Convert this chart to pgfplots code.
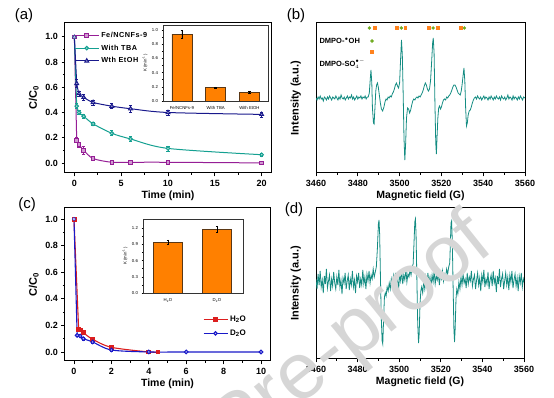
\documentclass[border=0pt]{standalone}
\usepackage{pgfplots}
\pgfplotsset{compat=1.18}
\usepackage{fontspec}
\setmainfont{Liberation Sans}
\definecolor{cpur}{RGB}{150,30,150}
\definecolor{cteal}{RGB}{20,160,145}
\definecolor{cnavy}{RGB}{25,25,140}
\definecolor{corange}{RGB}{255,128,0}
\definecolor{cedge}{RGB}{90,55,20}
\definecolor{cspec}{RGB}{20,140,130}
\definecolor{cgreen}{RGB}{110,170,30}
\definecolor{corg}{RGB}{255,130,30}
\definecolor{cred}{RGB}{220,30,30}
\definecolor{cblue}{RGB}{25,25,200}
\pgfplotsset{
  mainax/.style={
    scale only axis,
    axis line style={line width=1pt},
    tick style={black, line width=0.8pt},
    tick align=outside, tick pos=left,
    major tick length=3.5pt, minor tick length=2pt,
    ticklabel style={font=\bfseries\fontsize{9}{10}\selectfont},
    xlabel style={font=\bfseries\fontsize{10.5}{12}\selectfont, inner sep=1pt},
    ylabel style={font=\bfseries\fontsize{11}{12}\selectfont},
    /pgf/number format/assume math mode=true,
    legend cell align=left,
    legend image code/.code={\draw[mark repeat=2,mark phase=2,##1] plot coordinates {(0pt,0pt) (12pt,0pt) (24pt,0pt)};},
  },
  inax/.style={
    scale only axis,
    axis background/.style={fill=white},
    axis line style={line width=0.6pt, draw=black!80},
    ybar,
    tick align=outside, tick pos=left,
    major tick length=1.5pt, minor tick length=1pt,
    tick style={black, line width=0.4pt},
    ticklabel style={font=\fontsize{4.3}{5}\selectfont},
    ylabel style={font=\fontsize{4.3}{5}\selectfont, inner sep=1pt},
    yticklabel style={/pgf/number format/.cd, fixed, fixed zerofill, precision=1},
    /pgf/number format/assume math mode=true,
  },
  errs/.style={error bars/.cd, y dir=both, y explicit, error bar style={line width=0.7pt}, error mark options={rotate=90, mark size=1.6pt, line width=0.7pt}},
}
\begin{document}
\begin{tikzpicture}[x=1pt,y=1pt]
\useasboundingbox (0,0) rectangle (554,398);

% ---------------- (a) ----------------
\begin{axis}[mainax, at={(65pt,225pt)}, width=206pt, height=150pt,
  xmin=-1, xmax=21, ymin=-0.08, ymax=1.11,
  xtick={0,5,10,15,20}, minor x tick num=1,
  ytick={0,0.2,0.4,0.6,0.8,1.0}, minor y tick num=1,
  yticklabel style={/pgf/number format/.cd, fixed, fixed zerofill, precision=1},
  xlabel={Time (min)}, ylabel={C/C\textsubscript{0}},
  legend style={at={(0.044,0.955)}, anchor=north west, draw=none, fill=none,
    font=\bfseries\fontsize{7.3}{8}\selectfont\addfontfeatures{LetterSpace=7}, row sep=2pt, inner sep=0pt},
]
\addplot[forget plot, cpur, line width=1pt] coordinates {(0,1) (0.25,0.18)};
\addplot[forget plot, cteal, line width=1pt] coordinates {(0,1) (0.25,0.45)};
\addplot[forget plot, cnavy, line width=1pt] coordinates {(0,1) (0.25,0.63)};
\addplot[cpur, line width=1pt, smooth, mark=square*, mark size=1.8pt, mark options={fill=cpur!45, solid}, errs]
  coordinates {(0.25,0.18) +- (0,0.02) (0.5,0.145) +- (0,0.02) (1,0.10) +- (0,0.03) (2,0.035) +- (0,0.01) (4,0.005) +- (0,0.01) (6,0.005) +- (0,0.01) (10,0.005) +- (0,0.01) (20,0.0) +- (0,0.01)};
\addlegendentry{Fe/NCNFs-9}
\addplot[cteal, line width=1pt, smooth, mark=*, mark size=1.8pt, mark options={fill=cteal!35, solid}, errs]
  coordinates {(0.25,0.45) +- (0,0.02) (0.5,0.40) +- (0,0.015) (1,0.37) +- (0,0.015) (2,0.31) +- (0,0.015) (4,0.235) +- (0,0.02) (6,0.19) +- (0,0.02) (10,0.115) +- (0,0.02) (20,0.065) +- (0,0.01)};
\addlegendentry{With TBA}
\addplot[cnavy, line width=1pt, smooth, mark=triangle*, mark size=2.2pt, mark options={fill=cnavy!35, solid}, errs]
  coordinates {(0.25,0.63) +- (0,0.03) (0.5,0.55) +- (0,0.02) (1,0.52) +- (0,0.02) (2,0.48) +- (0,0.02) (4,0.45) +- (0,0.02) (6,0.43) +- (0,0.025) (10,0.40) +- (0,0.02) (20,0.385) +- (0,0.02)};
\addlegendentry{Wth EtOH}
\addplot[forget plot, only marks, mark=square*, mark size=1.8pt, cpur, mark options={fill=cpur!45}] coordinates {(0,1)};
\addplot[forget plot, only marks, mark=*, mark size=1.8pt, cteal, mark options={fill=cteal!35}] coordinates {(0,1)};
\addplot[forget plot, only marks, mark=triangle*, mark size=2.2pt, cnavy, mark options={fill=cnavy!25}] coordinates {(0,1)};
\end{axis}

\begin{axis}[inax, at={(163pt,297pt)}, width=105pt, height=76pt,
  bar width=20pt, xmin=-0.56, xmax=2.55, ymin=0, ymax=1.07,
  xtick={0,1,2}, xticklabels={Fe/NCNFs-9, With TBA, With EtOH},
  x tick style={draw=none},
  ytick={0,0.2,0.4,0.6,0.8,1.0}, minor y tick num=1,
  ylabel={K (min\textsuperscript{-1})},
]
\addplot[fill=corange, draw=cedge, line width=0.6pt, error bars/.cd, y dir=both, y explicit, error bar style={black, line width=0.5pt}, error mark options={rotate=90, mark size=1.2pt, black}]
  coordinates {(0,0.94) +- (0,0.05) (1,0.19) +- (0,0.01) (2,0.125) +- (0,0.01)};
\end{axis}

% ---------------- (b) ----------------
\begin{axis}[mainax, at={(316pt,225pt)}, width=209pt, height=150pt,
  xmin=3460, xmax=3560, ymin=0, ymax=150,
  xtick={3460,3480,3500,3520,3540,3560}, minor x tick num=1, ytick=\empty,
  xticklabel style={/pgf/number format/1000 sep={}},
  xlabel={Magnetic field (G)}, ylabel={Intensity (a.u.)},
  ylabel style={at={(axis description cs:-0.055,0.5)}, anchor=south},
]
\addplot[cspec, line width=0.8pt] coordinates {
(3460,75)(3460.5,73)(3461,76)(3461.5,74)(3462,77)(3462.5,74)(3463,75)(3463.5,72)(3464,76)(3464.5,75)
(3465,73)(3465.5,76)(3466,74)(3466.5,77)(3467,75)(3467.5,73)(3468,76)(3468.5,75)(3469,74)(3469.5,77)
(3470,75)(3470.5,73)(3471,76)(3471.5,74)(3472,78)(3472.5,75)(3473,74)(3473.5,76)(3474,73)(3474.5,75)
(3475,77)(3475.5,74)(3476,76)(3476.5,75)(3477,78)(3477.5,74)(3478,76)(3478.5,73)(3479,75)(3479.5,77)
(3480,74)(3480.5,76)(3481,75)(3481.5,77)(3482,74)(3482.5,76)(3483,75)(3483.5,77)(3484,74)(3484.5,76)
(3485,76)(3485.5,80)(3486,95)(3486.3,103)(3486.7,90)(3487,65)(3487.5,50)(3487.8,49)(3488.2,65)(3488.6,82)
(3489,88)(3489.4,90)(3489.8,86)(3490.3,78)(3490.8,70)(3491.3,64)(3491.9,62)(3492.5,66)(3493,71)(3493.5,74)
(3494,73)(3494.5,76)(3495,75)(3495.5,77)(3496,76)(3496.5,79)(3497,81)(3497.5,84)(3498,88)(3498.5,90)
(3499,87)(3499.5,85)(3500,90)(3500.5,115)(3500.9,133)(3501.3,118)(3501.7,80)(3502.1,35)(3502.5,13)(3502.9,30)
(3503.3,55)(3503.8,65)(3504.3,64)(3504.8,60)(3505.3,63)(3505.8,68)(3506.3,72)(3506.8,74)(3507.3,73)(3507.8,75)
(3508.3,76)(3508.8,75)(3509.3,77)(3509.8,76)(3510.3,78)(3510.8,80)(3511.3,83)(3511.8,87)(3512.3,90)(3512.8,88)
(3513.3,84)(3513.8,82)(3514.3,84)(3514.8,92)(3515.3,110)(3515.8,130)(3516.1,135)(3516.5,120)(3516.9,70)(3517.3,30)
(3517.6,19)(3517.9,35)(3518.3,55)(3518.7,65)(3519.1,67)(3519.6,64)(3520,66)(3520.5,70)(3521,73)(3521.5,74)
(3522,73)(3522.5,76)(3523,75)(3523.5,77)(3524,78)(3524.5,80)(3525,83)(3525.5,86)(3526,88)(3526.5,88)
(3527,86)(3527.5,83)(3528,80)(3528.5,79)(3529,78)(3529.5,82)(3530,90)(3530.5,100)(3530.8,105)(3531.2,92)
(3531.6,65)(3532,47)(3532.4,50)(3532.8,58)(3533.3,62)(3533.8,63)(3534.3,66)(3534.8,70)(3535.3,73)(3535.8,75)
(3536.3,76)(3536.8,74)(3537.3,77)(3537.8,75)(3538.3,74)(3538.8,76)(3539.3,73)(3539.8,75)(3540.3,77)(3540.8,74)
(3541.3,76)(3541.8,75)(3542.3,73)(3542.8,76)(3543.3,74)(3543.8,77)(3544.3,75)(3544.8,73)(3545.3,76)(3545.8,74)
(3546.3,77)(3546.8,75)(3547.3,74)(3547.8,76)(3548.3,73)(3548.8,77)(3549.3,75)(3549.8,74)(3550.3,76)(3550.8,73)
(3551.3,75)(3551.8,78)(3552.3,74)(3552.8,76)(3553.3,75)(3553.8,73)(3554.3,77)(3554.8,74)(3555.3,76)(3555.8,75)
(3556.3,73)(3556.8,76)(3557.3,74)(3557.8,77)(3558.3,75)(3558.8,73)(3559.3,76)(3560,75)};
\addplot[only marks, mark=*, mark size=1.5pt, cgreen] coordinates {(3485.5,145)(3500.8,145)(3516.0,145)(3531.0,145)(3486.8,132)};
\addplot[only marks, mark=square*, mark size=1.4pt, corg] coordinates {(3488.2,145)(3498.6,145)(3502.7,145)(3513.9,145)(3518.2,145)(3529.1,145)(3486.8,121)};
\node[anchor=west, font=\bfseries\fontsize{7.5}{8}\selectfont, inner sep=0pt] at (axis cs:3461.6,132) {DMPO-$^{\bullet}$OH};
\node[anchor=west, font=\bfseries\fontsize{7.5}{8}\selectfont, inner sep=0pt] at (axis cs:3461.6,109) {DMPO-SO$_4^{\bullet -}$};
\end{axis}

% ---------------- (c) ----------------
\begin{axis}[mainax, at={(65pt,37pt)}, width=205pt, height=153pt,
  xmin=-0.48, xmax=10.48, ymin=-0.068, ymax=1.083,
  xtick={0,2,4,6,8,10}, minor x tick num=1,
  ytick={0,0.2,0.4,0.6,0.8,1.0}, minor y tick num=1,
  yticklabel style={/pgf/number format/.cd, fixed, fixed zerofill, precision=1},
  xlabel={Time (min)}, ylabel={C/C\textsubscript{0}},
  legend style={at={(0.672,0.31)}, anchor=north west, draw=none, fill=none,
    font=\bfseries\fontsize{8}{9}\selectfont, row sep=3pt, inner sep=0pt},
]
\addplot[forget plot, cred, line width=1.1pt] coordinates {(0,1) (0.25,0.17)};
\addplot[cred, line width=1.1pt, smooth, mark=square*, mark size=1.8pt, mark options={fill=cred, solid}, errs]
  coordinates {(0.25,0.17) +- (0,0.01) (0.33,0.165) +- (0,0.01) (0.5,0.145) +- (0,0.01) (1,0.095) +- (0,0.01) (2,0.035) +- (0,0.01) (4,0.0) +- (0,0.005) (4.5,0.0) +- (0,0)};
\addlegendentry{H\textsubscript{2}O}
\addplot[forget plot, cblue, line width=1.1pt] coordinates {(0,1) (0.17,0.125)};
\addplot[cblue, line width=1.1pt, smooth, mark=*, mark size=1.8pt, mark options={fill=cblue!25, solid}, errs]
  coordinates {(0.17,0.125) +- (0,0.01) (0.33,0.12) +- (0,0.01) (0.5,0.10) +- (0,0.01) (1,0.075) +- (0,0.01) (2,0.015) +- (0,0.01) (4,0.0) +- (0,0.005) (6,0.0) +- (0,0.005) (10,0.0) +- (0,0.005)};
\addlegendentry{D\textsubscript{2}O}
\addplot[forget plot, only marks, mark=square*, mark size=1.8pt, cred, mark options={fill=cred}] coordinates {(0,1)};
\addplot[forget plot, only marks, mark=*, mark size=1.8pt, cblue, mark options={fill=cblue!25}] coordinates {(0,1)};
\end{axis}

\begin{axis}[inax, at={(143pt,105pt)}, width=100pt, height=74pt,
  bar width=29pt, xmin=-0.51, xmax=1.53, ymin=0, ymax=1.37,
  xtick={0,1}, xticklabels={H\textsubscript{2}O, D\textsubscript{2}O},
  minor xtick={0.5},
  ytick={0,0.3,0.6,0.9,1.2}, minor y tick num=1,
  ylabel={K (min\textsuperscript{-1})},
]
\addplot[fill=corange, draw=cedge, line width=0.6pt, error bars/.cd, y dir=both, y explicit, error bar style={black, line width=0.5pt}, error mark options={rotate=90, mark size=1.2pt, black}]
  coordinates {(0,0.94) +- (0,0.045) (1,1.18) +- (0,0.05)};
\end{axis}

% ---------------- (d) ----------------
\begin{axis}[mainax, at={(316pt,39pt)}, width=208pt, height=151pt,
  xmin=3460, xmax=3560, ymin=0, ymax=151,
  xtick={3460,3480,3500,3520,3540,3560}, minor x tick num=1, ytick=\empty,
  xticklabel style={/pgf/number format/1000 sep={}},
  xlabel={Magnetic field (G)}, ylabel={Intensity (a.u.)},
  ylabel style={at={(axis description cs:-0.055,0.5)}, anchor=south},
]
\addplot[cspec, line width=0.8pt] coordinates {
(3460,80)(3460.5,70)(3461,85)(3461.5,74)(3462,88)(3462.5,72)(3463,79)(3463.5,66)(3464,83)(3464.5,75)
(3465,90)(3465.5,71)(3466,78)(3466.5,84)(3467,68)(3467.5,80)(3468,73)(3468.5,87)(3469,76)(3469.5,70)
(3470,82)(3470.5,74)(3471,89)(3471.5,72)(3472,79)(3472.5,65)(3473,81)(3473.5,76)(3474,86)(3474.5,70)
(3475,78)(3475.5,84)(3476,69)(3476.5,80)(3477,74)(3477.5,88)(3478,72)(3478.5,79)(3479,66)(3479.5,83)
(3480,77)(3480.5,86)(3481,71)(3481.5,80)(3482,74)(3482.5,89)(3483,75)(3483.5,82)(3484,70)(3484.5,85)
(3485,78)(3485.5,88)(3486,76)(3486.5,84)(3487,80)(3487.5,90)(3488,82)(3488.5,87)(3489,92)(3489.5,110)
(3490,135)(3490.3,139)(3490.6,125)(3491,80)(3491.4,40)(3491.8,18)(3492.1,15)(3492.5,40)(3492.9,62)(3493.3,66)
(3493.7,63)(3494.2,72)(3494.7,68)(3495.2,76)(3495.7,70)(3496.2,80)(3496.7,74)(3497.2,83)(3497.7,72)(3498.2,86)
(3498.7,76)(3499.2,81)(3499.7,69)(3500.2,84)(3500.7,78)(3501.2,88)(3501.7,75)(3502.2,84)(3502.7,79)(3503.2,90)
(3503.7,77)(3504.2,85)(3504.7,82)(3505.2,89)(3505.7,84)(3506.2,92)(3506.7,95)(3507.1,115)(3507.5,137)(3507.8,140)
(3508.1,125)(3508.5,80)(3508.9,35)(3509.3,16)(3509.6,25)(3510,55)(3510.4,68)(3510.8,72)(3511.3,66)(3511.8,78)
(3512.3,70)(3512.8,82)(3513.3,74)(3513.8,86)(3514.3,76)(3514.8,82)(3515.3,72)(3515.8,84)(3516.3,77)(3516.8,88)
(3517.3,75)(3517.8,83)(3518.3,79)(3518.8,86)(3519.3,74)(3519.8,84)(3520.3,80)(3520.8,88)(3521.3,78)(3521.8,85)
(3522.3,82)(3522.8,90)(3523.3,85)(3523.8,92)(3524.3,96)(3524.6,115)(3524.9,136)(3525.2,138)(3525.5,120)(3525.9,75)
(3526.3,30)(3526.6,17)(3526.9,30)(3527.3,60)(3527.7,70)(3528.2,65)(3528.7,77)(3529.2,70)(3529.7,82)(3530.2,74)
(3530.7,85)(3531.2,76)(3531.7,80)(3532.2,71)(3532.7,86)(3533.2,75)(3533.7,82)(3534.2,78)(3534.7,88)(3535.2,73)
(3535.7,80)(3536.2,84)(3536.7,70)(3537.2,79)(3537.7,86)(3538.2,74)(3538.7,81)(3539.2,68)(3539.7,84)(3540.2,77)
(3540.7,89)(3541.2,72)(3541.7,80)(3542.2,75)(3542.7,87)(3543.2,70)(3543.7,79)(3544.2,84)(3544.7,73)(3545.2,88)
(3545.7,76)(3546.2,81)(3546.7,67)(3547.2,83)(3547.7,75)(3548.2,90)(3548.7,72)(3549.2,80)(3549.7,85)(3550.2,70)
(3550.7,78)(3551.2,86)(3551.7,74)(3552.2,82)(3552.7,69)(3553.2,84)(3553.7,77)(3554.2,88)(3554.7,71)(3555.2,79)
(3555.7,85)(3556.2,73)(3556.7,81)(3557.2,68)(3557.7,83)(3558.2,76)(3558.7,86)(3559.2,72)(3559.7,80)(3560,77)};
\end{axis}

% panel labels
\node[font=\fontsize{15}{16}\selectfont] at (24pt,382pt) {(a)};
\node[font=\fontsize{15}{16}\selectfont] at (296pt,382pt) {(b)};
\node[font=\fontsize{15}{16}\selectfont] at (27pt,193pt) {(c)};
\node[font=\fontsize{15}{16}\selectfont] at (294pt,188pt) {(d)};

% watermark
\node[rotate=38.6, anchor=base east, text=black!16, font=\fontsize{80}{84}\selectfont, inner sep=0pt] at (496pt,149pt) {Journal Pre-proof};
\end{tikzpicture}
\end{document}
